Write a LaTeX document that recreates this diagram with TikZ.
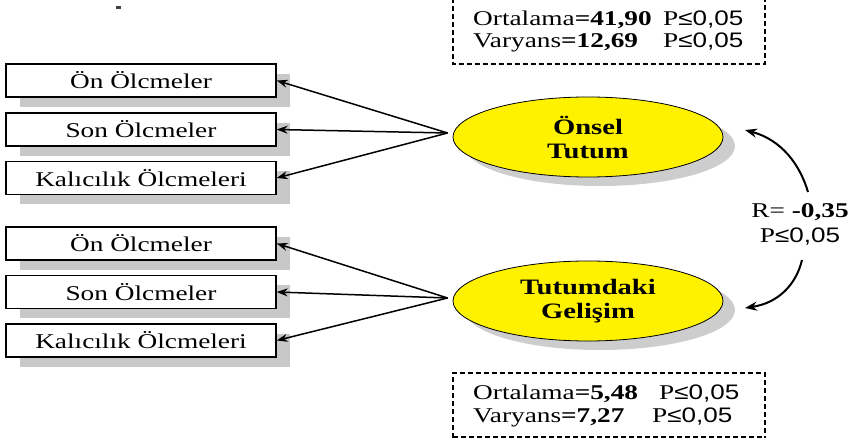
\documentclass[tikz,border=0pt]{standalone}
\usepackage{fontspec}
\setmainfont[FakeStretch=1.30]{Liberation Serif}
\newfontfamily\sansstr[FakeStretch=1.24]{Liberation Sans}
\usetikzlibrary{shapes.geometric,shadows,arrows.meta}
\definecolor{shadowgray}{RGB}{200,200,200}
\definecolor{ellshadow}{RGB}{205,205,205}
\newcommand{\pval}{P{\sansstr ≤0,05}}
\begin{document}
\begin{tikzpicture}[x=1pt,y=-1pt,
  font=\fontsize{21}{23}\selectfont,
  meas/.style={draw=black, line width=1.3pt, fill=white, minimum width=270pt,
    minimum height=33pt, inner sep=0pt,
    drop shadow={shadow xshift=14pt, shadow yshift=-10pt, fill=shadowgray, opacity=1}},
  latent/.style={ellipse, draw=black, line width=0.8pt, fill=yellow,
    minimum width=270pt, minimum height=80pt, inner sep=0pt, align=center,
    font=\bfseries\fontsize{22}{24}\selectfont,
    drop shadow={shadow xshift=12pt, shadow yshift=-9pt, fill=ellshadow, opacity=1}},
  arr/.style={line width=1.5pt, -{Stealth[length=11pt,width=8pt]}},
  carr/.style={line width=2pt, -{Stealth[length=12pt,width=9pt]}},
  dbox/.style={draw=black, line width=1.2pt, dash pattern=on 5pt off 3pt},
  txt/.style={anchor=base west, inner sep=0pt}
]
\clip (0,0) rectangle (852,438);
\fill[white] (0,0) rectangle (852,438);

% small mark
\fill[black!75] (116,6) rectangle (121,9.5);

% measurement boxes
\node[meas] (b1) at (141,80.5) {Ön Ölcmeler};
\node[meas] (b2) at (141,129.5) {Son Ölcmeler};
\node[meas] (b3) at (141,178) {Kalıcılık Ölcmeleri};
\node[meas] (b4) at (141,243.5) {Ön Ölcmeler};
\node[meas] (b5) at (141,292) {Son Ölcmeler};
\node[meas] (b6) at (141,340.5) {Kalıcılık Ölcmeleri};

% latent ellipses
\node[latent] (e1) at (588,137) {Önsel\\Tutum};
\node[latent] (e2) at (588,301) {Tutumdaki\\Gelişim};

% arrows to indicators
\coordinate (c1) at ([xshift=-5pt,yshift=4pt]e1.west);
\coordinate (c2) at ([xshift=-5pt,yshift=3pt]e2.west);
\foreach \b in {b1,b2,b3} \draw[arr] (c1) -- (\b.east);
\foreach \b in {b4,b5,b6} \draw[arr] (c2) -- (\b.east);

% correlation label
\node[align=center, inner sep=0pt] (rl) at (800,224) {R= \textbf{-0,35}\\[2pt]\pval};
\coordinate (s1) at (808,192);
\coordinate (t1) at (745,130);
\coordinate (s2) at (802,260);
\coordinate (t2) at (745,308);
\draw[carr] (s1) .. controls (800,165) and (782,140) .. (t1);
\draw[carr] (s2) .. controls (796,285) and (778,303) .. (t2);

% top dashed box
\draw[dbox] (453,-10) -- (453,64) -- (765,64) -- (765,-10);
\node[txt] (o1) at (473,26) {Ortalama\textbf{=41,90}};
\node[txt] (p1) at (663,26) {\pval};
\node[txt] (v1) at (473,48) {Varyans\textbf{=12,69}};
\node[txt] (p2) at (663,48) {\pval};

% bottom dashed box
\draw[dbox] (453,446) -- (453,373) -- (765,373) -- (765,446);
\draw[dbox] (453,437) -- (765,437);
\node[txt] (o2) at (473,400) {Ortalama\textbf{=5,48}};
\node[txt] (p3) at (659,400) {\pval};
\node[txt] (v2) at (473,423) {Varyans\textbf{=7,27}};
\node[txt] (p4) at (652,423) {\pval};
\end{tikzpicture}
\end{document}
